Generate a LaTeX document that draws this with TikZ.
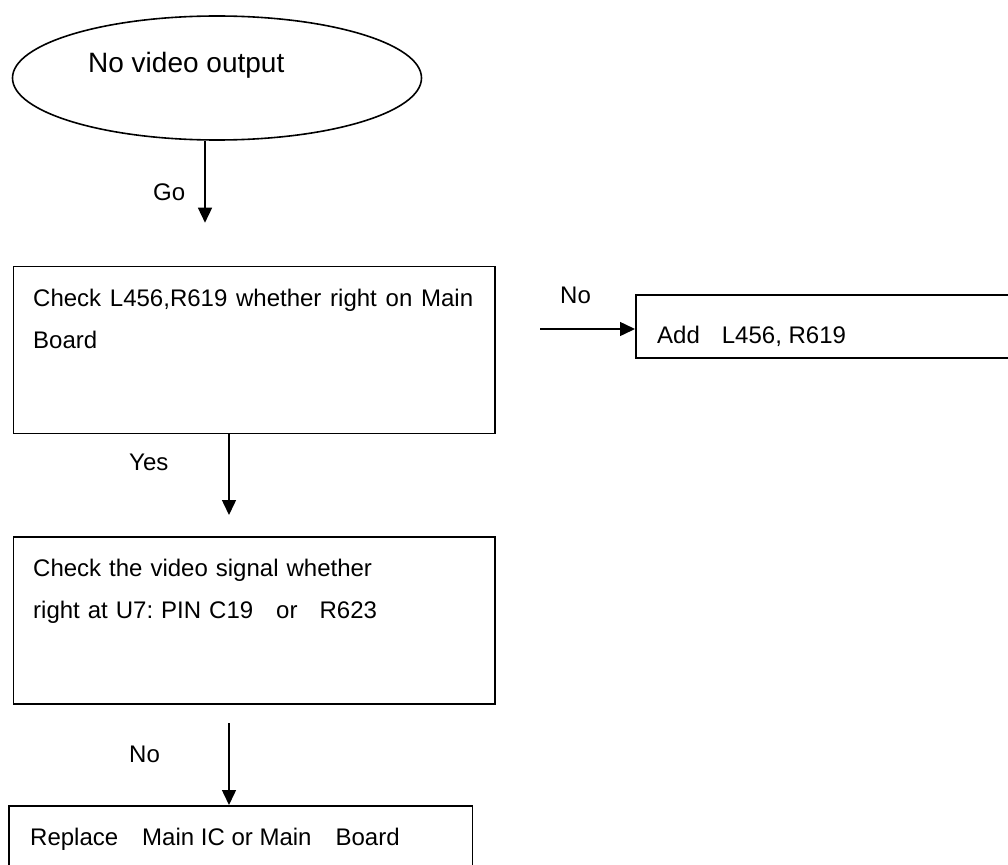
\documentclass[tikz,border=0pt]{standalone}
\usepackage{fontspec}
\setmainfont{Liberation Sans}
\usetikzlibrary{shapes.geometric,arrows.meta}
\frenchspacing
\begin{document}
\begin{tikzpicture}[x=1pt,y=-1pt,
  box/.style={draw, line width=1.6pt, rectangle, inner sep=0pt, anchor=north west},
  txt/.style={anchor=base west, inner sep=0pt, font=\fontsize{24}{42}\selectfont},
  bigtxt/.style={anchor=base west, inner sep=0pt, font=\fontsize{28}{32}\selectfont},
  arr/.style={line width=1.5pt, -{Triangle[width=14pt,length=15pt]}}]
\useasboundingbox (0,0) rectangle (1008,864);
\clip (0,0) rectangle (1008,864);
% start ellipse
\node[ellipse, draw, line width=1.6pt, inner sep=0pt, minimum width=409pt, minimum height=124pt] (start) at (217,78) {};
\node[bigtxt] (starttxt) at (88,72.7) {No video output};
% boxes
\node[box, minimum width=481.3pt, minimum height=167pt] (b1) at (12.7,265.7) {};
\node[txt, text width=440pt, align=justify] (b1txt) at (33,306.7) {Check L456,R619 whether right on Main Board};
\node[box, minimum width=481.3pt, minimum height=167pt] (b2) at (12.7,536) {};
\node[txt, text width=440pt, align=left] (b2txt) at (33,576.7) {Check the video signal whether\\right at U7: PIN C19\hspace{23pt}or\hspace{22pt}R623};
\node[box, minimum width=463.4pt, minimum height=90pt] (b3) at (8.3,805) {};
\node[txt] (b3txt) at (30,845) {Replace\hspace{24pt}Main IC or Main\hspace{24pt}Board};
\node[box, minimum width=400pt, minimum height=63pt] (b4) at (635,294) {};
\node[txt] (b4txt) at (657,343) {Add\hspace{22pt}L456, R619};
% connectors
\coordinate (goend) at (205,222.7);
\draw[arr] (goend |- start.south) -- (goend);
\node[txt] (golbl) at (153,200) {Go};
\coordinate (yesend) at (229,515);
\draw[arr] (yesend |- b1.south) -- (yesend);
\node[txt] (yeslbl) at (129,470) {Yes};
\coordinate (nostart) at (229,723);
\draw[arr] (nostart) -- (nostart |- b3.north);
\node[txt] (nolbl) at (129,762) {No};
\coordinate (nostartb) at (540,329);
\draw[arr] (nostartb) -- (nostartb -| b4.west);
\node[txt] (nolblb) at (560,303) {No};
\end{tikzpicture}
\end{document}
